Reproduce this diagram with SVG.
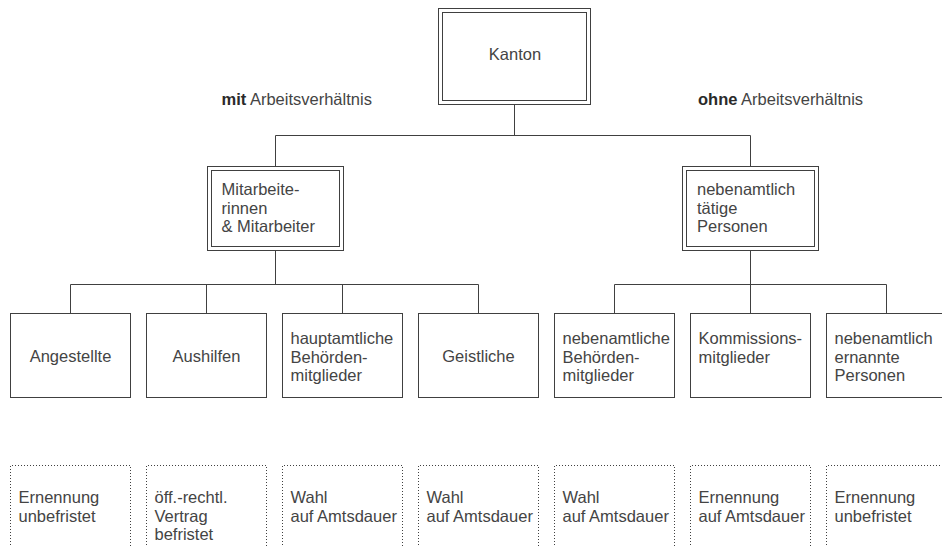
<svg xmlns="http://www.w3.org/2000/svg" width="942" height="546" viewBox="0 0 942 546">
<style>
.t{font-family:"Liberation Sans",Arial,sans-serif;font-size:16.5px;fill:#444}
.b{font-weight:bold;fill:#2a2a2a}
.c{text-anchor:middle}
.box{fill:#fff;stroke:#404040;stroke-width:1}
.dot{fill:none;stroke:#404040;stroke-width:1;stroke-dasharray:1 2}
.ln{fill:none;stroke:#404040;stroke-width:1}
</style>
<rect width="942" height="546" fill="#fff"/>
<g id="connectors">
<path class="ln" d="M514.5 104.5V135.5M275.5 135.5H750.5M275.5 135.5V166.5M750.5 135.5V166.5"/>
<path class="ln" d="M275.5 250.5V284.5M70.5 284.5H478.5M70.5 284.5V313.5M206.5 284.5V313.5M342.5 284.5V313.5M478.5 284.5V313.5"/>
<path class="ln" d="M750.5 250.5V284.5M614.5 284.5H886.5M614.5 284.5V313.5M750.5 284.5V313.5M886.5 284.5V313.5"/>
</g>
<g id="labels">
<text class="t" x="221.5" y="105"><tspan class="b">mit</tspan> Arbeitsverhältnis</text>
<text class="t" x="698" y="105"><tspan class="b">ohne</tspan> Arbeitsverhältnis</text>
</g>
<g id="kanton">
<rect class="box" x="438.5" y="8.5" width="152" height="96"/>
<rect class="box" x="442.5" y="12.5" width="144" height="88"/>
<text class="t c" x="515" y="60">Kanton</text>
</g>
<g id="mitarbeiter">
<rect class="box" x="207.5" y="166.5" width="136" height="84"/>
<rect class="box" x="211.5" y="170.5" width="128" height="76"/>
<text class="t" x="221.5" y="195">Mitarbeite-<tspan x="221.5" dy="18.7">rinnen</tspan><tspan x="221.5" dy="18.7">&amp; Mitarbeiter</tspan></text>
</g>
<g id="nebenamtlich">
<rect class="box" x="682.5" y="166.5" width="136" height="84"/>
<rect class="box" x="686.5" y="170.5" width="128" height="76"/>
<text class="t" x="697" y="195">nebenamtlich<tspan x="697" dy="18.7">tätige</tspan><tspan x="697" dy="18.7">Personen</tspan></text>
</g>
<g id="angestellte">
<rect class="box" x="10.5" y="313.5" width="120" height="84"/>
<text class="t c" x="70.5" y="362">Angestellte</text>
</g>
<g id="aushilfen">
<rect class="box" x="146.5" y="313.5" width="120" height="84"/>
<text class="t c" x="206.5" y="362">Aushilfen</text>
</g>
<g id="hauptamtliche">
<rect class="box" x="282.5" y="313.5" width="120" height="84"/>
<text class="t" x="290.5" y="344">hauptamtliche<tspan x="290.5" dy="18.7">Behörden-</tspan><tspan x="290.5" dy="18.7">mitglieder</tspan></text>
</g>
<g id="geistliche">
<rect class="box" x="418.5" y="313.5" width="120" height="84"/>
<text class="t c" x="478.5" y="362">Geistliche</text>
</g>
<g id="nebenamtliche-behoerden">
<rect class="box" x="554.5" y="313.5" width="120" height="84"/>
<text class="t" x="562.5" y="344">nebenamtliche<tspan x="562.5" dy="18.7">Behörden-</tspan><tspan x="562.5" dy="18.7">mitglieder</tspan></text>
</g>
<g id="kommission">
<rect class="box" x="690.5" y="313.5" width="120" height="84"/>
<text class="t" x="698.5" y="344">Kommissions-<tspan x="698.5" dy="18.7">mitglieder</tspan></text>
</g>
<g id="ernannte">
<rect class="box" x="826.5" y="313.5" width="120" height="84"/>
<text class="t" x="834.5" y="344">nebenamtlich<tspan x="834.5" dy="18.7">ernannte</tspan><tspan x="834.5" dy="18.7">Personen</tspan></text>
</g>
<g id="d1">
<path class="dot" d="M10.5 560V465.5H130.5V560"/>
<text class="t" x="18.5" y="503">Ernennung<tspan x="18.5" dy="18.7">unbefristet</tspan></text>
</g>
<g id="d2">
<path class="dot" d="M146.5 560V465.5H266.5V560"/>
<text class="t" x="154.5" y="503">öff.-rechtl.<tspan x="154.5" dy="18.7">Vertrag</tspan><tspan x="154.5" dy="18.7">befristet</tspan></text>
</g>
<g id="d3">
<path class="dot" d="M282.5 560V465.5H402.5V560"/>
<text class="t" x="290.5" y="503">Wahl<tspan x="290.5" dy="18.7">auf Amtsdauer</tspan></text>
</g>
<g id="d4">
<path class="dot" d="M418.5 560V465.5H538.5V560"/>
<text class="t" x="426.5" y="503">Wahl<tspan x="426.5" dy="18.7">auf Amtsdauer</tspan></text>
</g>
<g id="d5">
<path class="dot" d="M554.5 560V465.5H674.5V560"/>
<text class="t" x="562.5" y="503">Wahl<tspan x="562.5" dy="18.7">auf Amtsdauer</tspan></text>
</g>
<g id="d6">
<path class="dot" d="M690.5 560V465.5H810.5V560"/>
<text class="t" x="698.5" y="503">Ernennung<tspan x="698.5" dy="18.7">auf Amtsdauer</tspan></text>
</g>
<g id="d7">
<path class="dot" d="M826.5 560V465.5H946.5V560"/>
<text class="t" x="834.5" y="503">Ernennung<tspan x="834.5" dy="18.7">unbefristet</tspan></text>
</g>
</svg>
